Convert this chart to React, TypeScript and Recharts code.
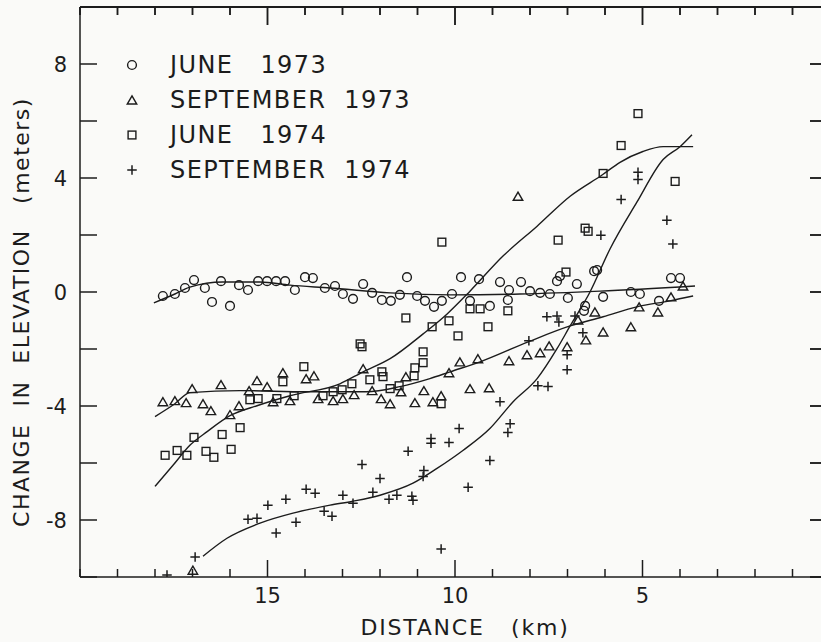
import React from "react";
import { ComposedChart, Scatter, Line, XAxis, YAxis, Legend } from "recharts";

type Pt = [number, number];

// [distance km, change in elevation m]
const june1973: Pt[] = [
	[17.79, -0.14], [17.47, -0.07], [17.2, 0.14], [16.96, 0.42], [16.67, 0.14], [16.48, -0.35],
	[16.24, 0.38], [16.0, -0.49], [15.76, 0.24], [15.52, 0.07], [15.25, 0.38], [15.01, 0.38],
	[14.77, 0.38], [14.53, 0.38], [14.27, 0.07], [14.0, 0.52], [13.79, 0.49], [13.47, 0.14],
	[13.2, 0.21], [12.99, -0.07], [12.72, -0.24], [12.45, 0.28], [12.21, -0.03], [11.95, -0.28],
	[11.71, -0.31], [11.47, -0.1], [11.28, 0.52], [11.01, -0.14], [10.8, -0.31], [10.56, -0.52],
	[10.35, -0.31], [10.08, -0.07], [9.84, 0.52], [9.6, -0.31], [9.36, 0.45], [9.07, -0.49],
	[8.8, 0.35], [8.56, 0.07], [8.59, -0.28], [8.24, 0.35], [8.0, 0.03], [7.73, -0.03],
	[7.47, -0.07], [7.28, 0.38], [7.2, 0.56], [6.99, -0.21], [6.75, 0.28], [6.53, -0.49],
	[6.56, -0.66], [6.29, 0.73], [6.21, 0.77], [6.05, -0.17], [5.31, 0.0], [5.07, -0.07],
	[4.56, -0.31], [4.24, 0.49], [4.0, 0.49],
];

const sept1973: Pt[] = [
	[17.79, -3.85], [17.47, -3.81], [17.17, -3.88], [17.01, -3.39], [16.72, -3.92], [16.51, -4.16],
	[16.24, -3.25], [16.0, -4.3], [15.76, -3.99], [15.49, -3.46], [15.28, -3.11], [15.01, -3.32],
	[14.85, -3.85], [14.59, -2.83], [14.4, -3.81], [13.97, -3.04], [13.76, -2.94], [13.65, -3.74],
	[13.25, -3.81], [12.99, -3.74], [12.69, -3.6], [12.45, -2.69], [12.21, -3.46], [11.97, -3.74],
	[11.73, -3.92], [11.44, -3.5], [11.31, -2.97], [11.07, -3.88], [10.83, -3.46], [10.59, -3.85],
	[10.37, -3.64], [10.16, -2.83], [9.87, -2.45], [9.6, -3.39], [9.39, -2.34], [9.09, -3.36],
	[8.56, -2.41], [8.32, 3.36], [8.08, -2.2], [7.73, -2.13], [7.49, -1.89], [7.01, -1.92],
	[6.72, -0.98], [6.51, -1.68], [6.27, -0.7], [6.05, -1.4], [5.31, -1.22], [5.09, -0.52],
	[4.59, -0.7], [4.24, -0.17], [3.92, 0.21], [16.99, -9.76],
];

const june1974: Pt[] = [
	[17.73, -5.73], [17.41, -5.56], [17.15, -5.73], [16.96, -5.1], [16.64, -5.59], [16.43, -5.8],
	[16.21, -5.0], [15.97, -5.52], [15.73, -4.76], [15.47, -3.78], [15.25, -3.74], [14.75, -3.74],
	[14.59, -3.15], [14.29, -3.64], [14.03, -2.62], [13.52, -3.64], [13.25, -3.5], [13.01, -3.43],
	[12.75, -3.22], [12.53, -1.82], [12.48, -1.92], [12.27, -3.08], [11.95, -2.8], [11.92, -2.97],
	[11.73, -3.39], [11.49, -3.29], [11.31, -0.91], [11.07, -2.66], [11.09, -2.94], [10.85, -2.1],
	[10.85, -2.48], [10.61, -1.22], [10.37, -3.92], [10.35, 1.75], [10.16, -1.01], [9.92, -1.54],
	[9.6, -0.59], [9.33, -0.59], [9.12, -1.22], [8.59, -0.66], [7.25, 1.82], [7.04, 0.7],
	[6.53, 2.24], [6.45, 2.13], [6.05, 4.16], [5.57, 5.14], [5.12, 6.26], [4.13, 3.88],
];

const sept1974: Pt[] = [
	[17.68, -9.93], [16.93, -9.3], [15.52, -7.97], [15.28, -7.94], [14.99, -7.48], [14.77, -8.46],
	[14.51, -7.27], [14.24, -8.08], [13.97, -6.92], [13.73, -7.06], [13.49, -7.69], [13.28, -7.87],
	[12.99, -7.13], [12.72, -7.41], [12.48, -6.05], [12.19, -7.03], [12.0, -6.54], [11.76, -7.27],
	[11.55, -7.13], [11.25, -5.59], [11.15, -7.17], [11.12, -7.31], [10.85, -6.47], [10.83, -6.26],
	[10.64, -5.14], [10.64, -5.31], [10.37, -9.02], [10.16, -5.28], [9.89, -4.79], [9.65, -6.85],
	[9.07, -5.91], [8.8, -3.85], [8.53, -4.62], [8.59, -4.93], [8.03, -1.71], [7.79, -3.29],
	[7.52, -3.32], [7.55, -0.87], [7.28, -0.84], [7.23, -1.05], [7.01, -2.2], [7.01, -2.73],
	[6.8, -0.84], [6.59, -1.43], [6.11, 1.99], [5.57, 3.25], [5.12, 4.2], [5.12, 3.95],
	[4.35, 2.52], [4.19, 1.68],
];

// hand-drawn fitted curves
const june1973Fit: Pt[] = [
	[18.03, -0.38], [17.47, -0.07], [17.07, 0.17], [16.19, 0.35], [15.2, 0.35], [14.4, 0.24],
	[13.33, 0.14], [11.73, -0.03], [10.13, -0.1], [8.27, -0.07], [6.13, 0.03], [3.6, 0.21],
];
const sept1973Fit: Pt[] = [
	[18.0, -4.37], [17.47, -3.92], [17.07, -3.53], [15.73, -3.46], [13.95, -3.5], [12.37, -3.5],
	[11.47, -3.32], [10.67, -3.04], [10.13, -2.8], [9.33, -2.45], [8.05, -1.75], [6.93, -1.19],
	[6.05, -0.87], [5.15, -0.52], [4.27, -0.31], [3.65, -0.14],
];
const june1974Fit: Pt[] = [
	[18.0, -6.82], [17.52, -6.08], [17.07, -5.38], [16.61, -4.9], [16.0, -4.34], [15.28, -3.99],
	[14.4, -3.64], [13.07, -3.22], [12.45, -2.8], [11.73, -2.34], [10.85, -1.47], [10.21, -0.77],
	[9.6, 0.03], [8.72, 1.26], [7.81, 2.31], [6.93, 3.36], [6.05, 4.13], [5.6, 4.55],
	[4.99, 4.93], [4.45, 5.1], [3.65, 5.1],
];
const sept1974Fit: Pt[] = [
	[16.72, -9.27], [16.08, -8.64], [15.2, -8.11], [14.32, -7.76], [13.33, -7.48], [12.72, -7.34],
	[12.0, -7.13], [11.12, -6.71], [10.48, -6.19], [9.79, -5.56], [9.07, -4.79], [8.45, -3.85],
	[7.81, -3.04], [7.28, -1.99], [6.93, -1.19], [6.4, 0.0], [5.87, 1.5], [5.15, 3.15],
	[4.45, 4.65], [4.0, 5.1], [3.68, 5.52],
];

const kmTicks = Array.from({ length: 21 }, (_, i) => i);
const kmLabels = [5, 10, 15];
const elevTicks = [-10, -8, -6, -4, -2, 0, 2, 4, 6, 8, 10];
const elevLabels = [-8, -4, 0, 4, 8];

const INK = "#1c1c1c";
const BG = "#fafaf8";
const FONT = "'DejaVu Sans', sans-serif";

// plot box in px (chart 840x642, margins top 7 / right 10, y axis 80, x axis 65)
const PLOT = { left: 80, top: 7, width: 750, height: 570 };
const kmToPx = (k: number) => PLOT.left + ((20 - k) / 20) * PLOT.width;
const elevToPx = (v: number) => PLOT.top + ((10 - v) / 20) * PLOT.height;

const rows = (pts: Pt[]) => pts.map(([x, y]) => ({ x, y }));

// markers
const Ring = ({ cx, cy, r = 4.4 }: any) => (
	<circle cx={cx} cy={cy} r={r} fill="none" stroke={INK} strokeWidth={1.4} />
);
const Tri = ({ cx, cy, s = 9.5 }: any) => {
	const h = s * 0.85;
	return (
		<path
			d={`M${cx},${cy - h / 2} L${cx + s / 2},${cy + h / 2} L${cx - s / 2},${cy + h / 2} Z`}
			fill="none"
			stroke={INK}
			strokeWidth={1.4}
		/>
	);
};
const Sq = ({ cx, cy, s = 7.8 }: any) => (
	<rect x={cx - s / 2} y={cy - s / 2} width={s} height={s} fill="none" stroke={INK} strokeWidth={1.4} />
);
const Plus = ({ cx, cy, s = 9.5 }: any) => (
	<path d={`M${cx - s / 2},${cy} H${cx + s / 2} M${cx},${cy - s / 2} V${cy + s / 2}`} stroke={INK} strokeWidth={1.5} />
);

// x ticks: inward on the bottom edge and on the top edge
const BottomTick = (p: any) => {
	const v = p.payload.value;
	const major = kmLabels.includes(v);
	const x = Number(p.x);
	const y = Number(p.y);
	const top = y - PLOT.height;
	return (
		<g>
			<line x1={x} x2={x} y1={y} y2={y - (major ? 17 : 8)} stroke={INK} strokeWidth={1.5} />
			<line x1={x} x2={x} y1={top} y2={top + (major ? 18 : 8)} stroke={INK} strokeWidth={1.5} />
			{v === 20 && <line x1={x} x2={x + PLOT.width} y1={top} y2={top} stroke={INK} strokeWidth={1.5} />}
			{major && (
				<text x={x} y={y + 26} textAnchor="middle" fontSize={21} fontFamily={FONT} fill={INK}>
					{v}
				</text>
			)}
		</g>
	);
};
// y ticks: inward on the left edge and on the right edge
const LeftTick = (p: any) => {
	const v = p.payload.value;
	const x = Number(p.x);
	const y = Number(p.y);
	const right = x + PLOT.width;
	return (
		<g>
			<line x1={x} x2={x + 17} y1={y} y2={y} stroke={INK} strokeWidth={1.5} />
			<line x1={right} x2={right - 20} y1={y} y2={y} stroke={INK} strokeWidth={1.5} />
			{elevLabels.includes(v) && (
				<text x={x - 13} y={y + 7.5} textAnchor="end" fontSize={21} fontFamily={FONT} fill={INK}>
					{v}
				</text>
			)}
		</g>
	);
};

// top and right edges of the frame, with inward ticks
const Frame = () => {
	const right = PLOT.left + PLOT.width;
	return (
		<>
			<div
				style={{
					position: "absolute",
					left: PLOT.left,
					top: PLOT.top - 1,
					width: PLOT.width,
					height: PLOT.height,
					borderTop: `2px solid ${INK}`,
					borderRight: `2px solid ${INK}`,
					boxSizing: "border-box",
					pointerEvents: "none",
				}}
			/>
			<svg
				width={821}
				height={642}
				style={{ position: "absolute", left: 0, top: 0, pointerEvents: "none" }}
			>
				<g stroke={INK} strokeWidth={1.5}>
					{kmTicks.map((k) => (
						<line
							key={`t${k}`}
							x1={kmToPx(k)}
							x2={kmToPx(k)}
							y1={PLOT.top}
							y2={PLOT.top + (kmLabels.includes(k) ? 18 : 8)}
						/>
					))}
					{elevTicks.map((v) => (
						<line key={`r${v}`} x1={right} x2={right - 20} y1={elevToPx(v)} y2={elevToPx(v)} />
					))}
				</g>
			</svg>
		</>
	);
};

const legendItems = [
	{ label: "JUNE   1973", Mark: Ring },
	{ label: "SEPTEMBER  1973", Mark: Tri },
	{ label: "JUNE   1974", Mark: Sq },
	{ label: "SEPTEMBER  1974", Mark: Plus },
];

const LegendBox = () => (
	<div style={{ fontFamily: FONT, fontSize: 24, letterSpacing: 1.4, color: INK }}>
		{legendItems.map(({ label, Mark }) => (
			<div key={label} style={{ display: "flex", alignItems: "center", height: 35, whiteSpace: "pre" }}>
				<svg width={24} height={20} style={{ marginRight: 26 }}>
					<Mark cx={12} cy={10} />
				</svg>
				<span>{label}</span>
			</div>
		))}
	</div>
);

const axisLine = { stroke: INK, strokeWidth: 1.5 };

export default function App() {
	return (
		<div
			style={{
				position: "fixed",
				left: 0,
				top: 0,
				width: 821,
				height: 642,
				overflow: "hidden",
				background: BG,
			}}
		>
			<ComposedChart width={840} height={642} margin={{ top: 7, right: 10, left: 0, bottom: 0 }}>
				<XAxis
					type="number"
					dataKey="x"
					domain={[0, 20]}
					reversed
					ticks={kmTicks}
					interval={0}
					height={65}
					tickSize={0}
					tickMargin={0}
					axisLine={axisLine}
					tickLine={false}
					tick={<BottomTick />}
					allowDataOverflow
				/>
				<YAxis
					type="number"
					dataKey="y"
					domain={[-10, 10]}
					ticks={elevTicks}
					interval={0}
					width={80}
					tickSize={0}
					tickMargin={0}
					axisLine={axisLine}
					tickLine={false}
					tick={<LeftTick />}
					allowDataOverflow
				/>

				<Line data={rows(june1973Fit)} dataKey="y" type="monotone" stroke={INK} strokeWidth={1.4} dot={false} legendType="none" isAnimationActive={false} />
				<Line data={rows(sept1973Fit)} dataKey="y" type="monotone" stroke={INK} strokeWidth={1.4} dot={false} legendType="none" isAnimationActive={false} />
				<Line data={rows(june1974Fit)} dataKey="y" type="monotone" stroke={INK} strokeWidth={1.4} dot={false} legendType="none" isAnimationActive={false} />
				<Line data={rows(sept1974Fit)} dataKey="y" type="monotone" stroke={INK} strokeWidth={1.4} dot={false} legendType="none" isAnimationActive={false} />

				<Scatter name="JUNE 1973" data={rows(june1973)} dataKey="y" shape={(p: any) => <Ring cx={p.cx} cy={p.cy} />} isAnimationActive={false} />
				<Scatter name="SEPTEMBER 1973" data={rows(sept1973)} dataKey="y" shape={(p: any) => <Tri cx={p.cx} cy={p.cy} />} isAnimationActive={false} />
				<Scatter name="JUNE 1974" data={rows(june1974)} dataKey="y" shape={(p: any) => <Sq cx={p.cx} cy={p.cy} />} isAnimationActive={false} />
				<Scatter name="SEPTEMBER 1974" data={rows(sept1974)} dataKey="y" shape={(p: any) => <Plus cx={p.cx} cy={p.cy} />} isAnimationActive={false} />

				<Legend
					layout="vertical"
					align="center"
					verticalAlign="middle"
					content={() => <LegendBox />}
					wrapperStyle={{ left: 120, top: 47, width: 320, height: 140 }}
				/>
			</ComposedChart>

			<Frame />

			<div
				style={{
					position: "absolute",
					left: 21,
					top: 312,
					transform: "translate(-50%, -50%) rotate(-90deg)",
					fontFamily: FONT,
					fontSize: 22,
					letterSpacing: 1.5,
					color: INK,
					whiteSpace: "pre",
				}}
			>
				CHANGE  IN  ELEVATION   (meters)
			</div>
			<div
				style={{
					position: "absolute",
					left: 465,
					top: 628,
					lineHeight: "24px",
					transform: "translate(-50%, -50%)",
					fontFamily: FONT,
					fontSize: 22,
					letterSpacing: 1.8,
					color: INK,
					whiteSpace: "pre",
				}}
			>
				DISTANCE   (km)
			</div>
		</div>
	);
}
